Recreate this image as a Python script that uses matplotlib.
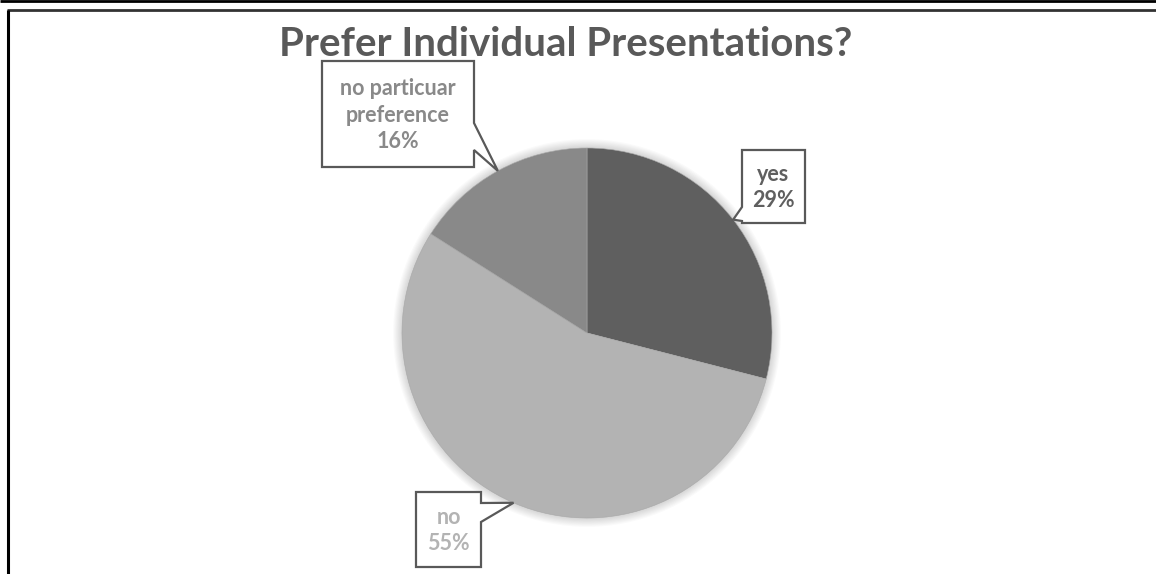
import numpy as np
import matplotlib.pyplot as plt
from matplotlib.patches import Polygon, Circle

# data
labels = ['yes', 'no', 'no particuar\npreference']
shares = [29, 55, 16]
colors = ['#5f5f5f', '#b3b3b3', '#898989']
title = 'Prefer Individual Presentations?'

W, H = 1156, 574
fig = plt.figure(figsize=(W / 100, H / 100), dpi=100)
font = 'Lato'

# pie centre and radius in pixels
cx, cy, r = 587, 333, 185
ax = fig.add_axes([(cx - r) / W, 1 - (cy + r) / H, 2 * r / W, 2 * r / H])
# soft glow around the pie
for k in range(8):
    ax.add_patch(Circle((0, 0), 1 + 0.006 * (k + 1), color='k', alpha=0.018,
                        zorder=0, clip_on=False, lw=0))
wedges, _ = ax.pie(shares, colors=colors, startangle=90, counterclock=False,
                   wedgeprops=dict(linewidth=0.4, edgecolor='#a8a8a8'))
for w in wedges:
    w.set_zorder(2)
ax.set_xlim(-1, 1)
ax.set_ylim(-1, 1)
ax.set_aspect('equal')
ax.axis('off')

# overlay in pixel coordinates
ov = fig.add_axes([0, 0, 1, 1], zorder=5)
ov.set_xlim(0, W)
ov.set_ylim(H, 0)
ov.axis('off')
ov.patch.set_alpha(0)

# frame lines
ov.plot([0, W], [1, 1], color='black', lw=2, solid_capstyle='butt')
ov.plot([7, W], [10, 10], color='#333333', lw=2, solid_capstyle='butt')
ov.plot([8, 8], [10, H], color='black', lw=2.2, solid_capstyle='butt')

ov.text(566, 45, title, ha='center', va='center', fontsize=29,
        fontweight='bold', color='#595959', family=font)

# callout boxes (x0, y0, x1, y1), side with the pointer and its base
boxes = [(742, 150, 805, 223), (416, 492, 481, 567), (322, 61, 474, 167)]
sides = ['left', 'right', 'right']
bases = [(207, 221), (503, 522), (123, 150)]

for w, lab, s, col, (x0, y0, x1, y1), side, (b0, b1) in zip(
        wedges, labels, shares, colors, boxes, sides, bases):
    mid = np.deg2rad((w.theta1 + w.theta2) / 2)
    tip = (cx + r * np.cos(mid), cy - r * np.sin(mid))
    if side == 'right':
        pts = [(x0, y0), (x1, y0), (x1, b0), tip, (x1, b1), (x1, y1), (x0, y1)]
    else:
        pts = [(x0, y0), (x1, y0), (x1, y1), (x0, y1), (x0, b1), tip, (x0, b0)]
    ov.add_patch(Polygon(pts, closed=True, facecolor='white',
                         edgecolor='#595959', lw=1.6))
    ov.text((x0 + x1) / 2, (y0 + y1) / 2 + 1, f'{lab}\n{s}%', ha='center',
            va='center', fontsize=15.5, fontweight='bold', color=col,
            family=font, linespacing=1.3)

fig.savefig('out.png', dpi=100, facecolor='white')
